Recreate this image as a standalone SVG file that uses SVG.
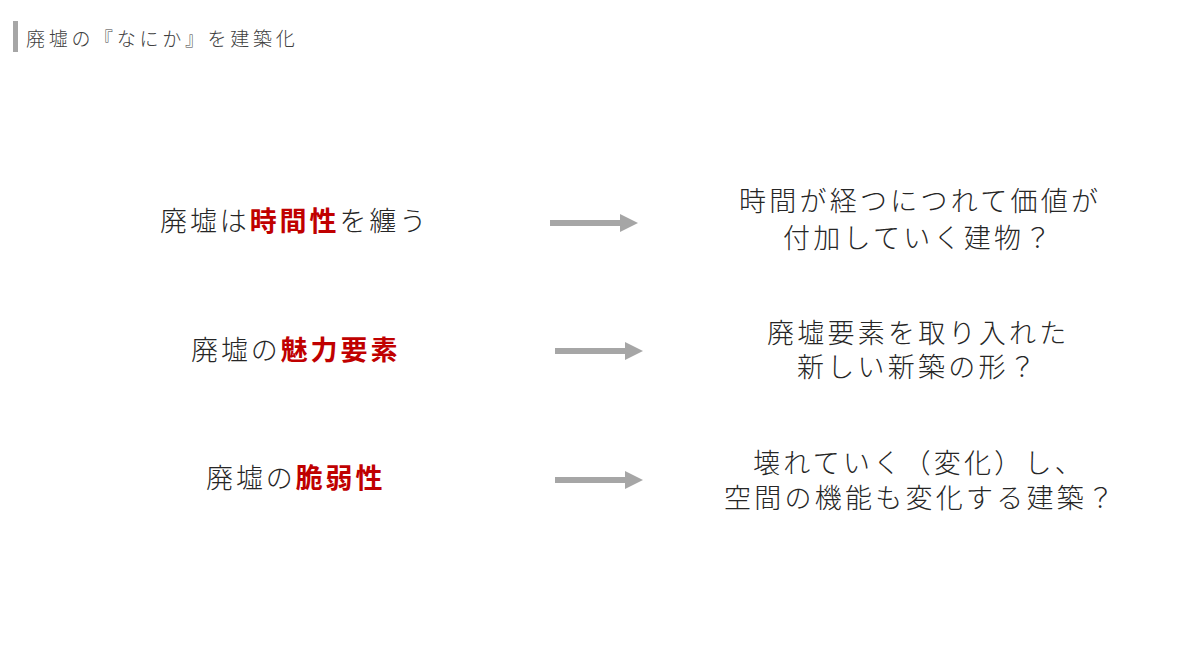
<svg xmlns="http://www.w3.org/2000/svg" width="1199" height="671" viewBox="0 0 1199 671">
<defs>
<style>
.t{font-family:"Noto Sans CJK JP","Noto Sans",sans-serif;font-weight:300;fill:#262626;}
.m{font-size:27px;letter-spacing:2.9px;}
.r{font-size:27px;letter-spacing:3.25px;}
.red{fill:#c00000;font-weight:700;}
.title{font-size:19px;letter-spacing:3.7px;fill:#404040;}
.shaft{stroke:#a6a6a6;stroke-width:6;fill:none;}
.head{fill:#a6a6a6;}
</style>
</defs>
<rect width="1199" height="671" fill="#ffffff"/>
<g id="title">
<rect x="13" y="21" width="5" height="31" fill="#a6a6a6"/>
<text class="t title" x="26" y="46">廃墟の『なにか』を建築化</text>
</g>
<g id="left1"><text class="t m" x="160" y="231">廃墟は<tspan class="red">時間性</tspan>を纏う</text></g>
<g id="left2"><text class="t m" x="191" y="360">廃墟の<tspan class="red">魅力要素</tspan></text></g>
<g id="left3"><text class="t m" x="206" y="488">廃墟の<tspan class="red">脆弱性</tspan></text></g>
<g id="right1">
<text class="t r"><tspan x="739" y="211">時間が経つにつれて価値が</tspan><tspan x="783" y="248">付加していく建物？</tspan></text>
</g>
<g id="right2">
<text class="t r"><tspan x="767" y="343">廃墟要素を取り入れた</tspan><tspan x="797" y="377">新しい新築の形？</tspan></text>
</g>
<g id="right3">
<text class="t r"><tspan x="753" y="473">壊れていく（変化）し、</tspan><tspan x="724" y="508">空間の機能も変化する建築？</tspan></text>
</g>
<g id="connectors">
<line class="shaft" x1="550" y1="223" x2="622" y2="223"/>
<polygon class="head" points="620,214 638,223 620,232"/>
<line class="shaft" x1="555" y1="351" x2="627" y2="351"/>
<polygon class="head" points="625,342 643,351 625,360"/>
<line class="shaft" x1="555" y1="480" x2="627" y2="480"/>
<polygon class="head" points="625,471 643,480 625,489"/>
</g>
</svg>
